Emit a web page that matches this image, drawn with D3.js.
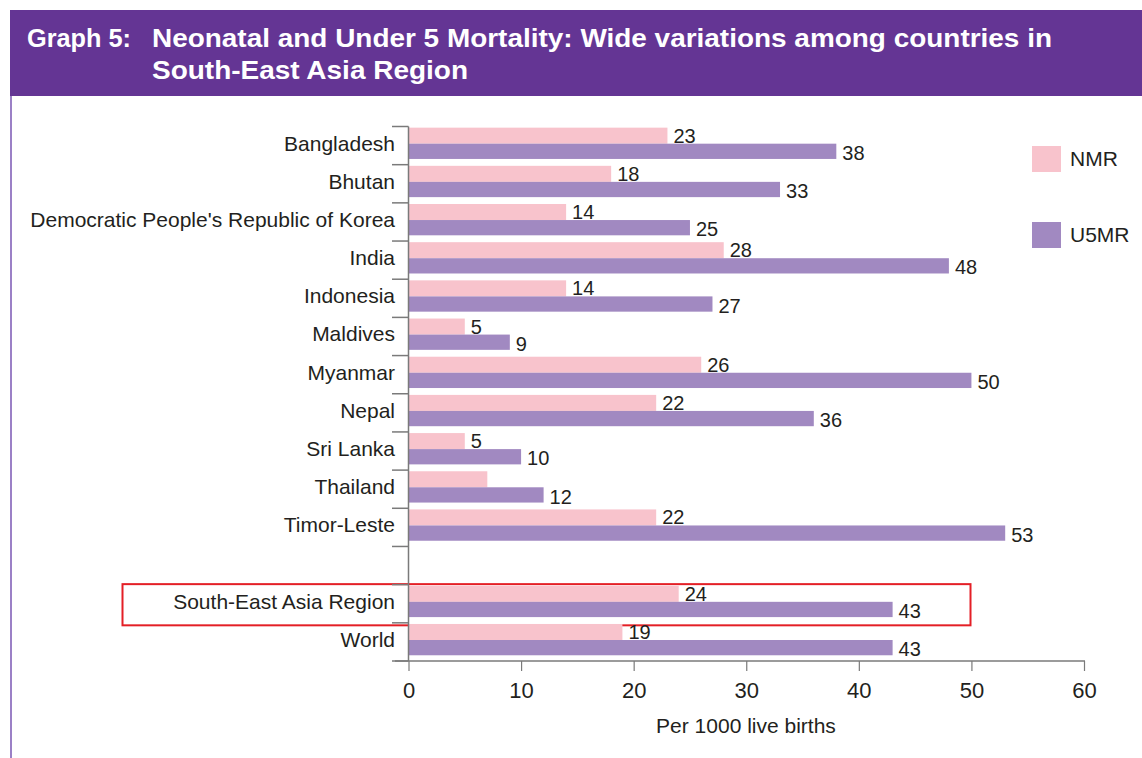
<!DOCTYPE html>
<html>
<head>
<meta charset="utf-8">
<script src="https://cdn.jsdelivr.net/npm/d3@7"></script>
<style>
  body { margin: 0; background: #fff; }
  svg { display: block; font-family: "Liberation Sans", Arial, Helvetica, sans-serif; }
</style>
</head>
<body>
<div id="chart"></div>
<script>
//Data
var countries = ["Bangladesh", "Bhutan", "Democratic People's Republic of Korea", "India", "Indonesia",
                 "Maldives", "Myanmar", "Nepal", "Sri Lanka", "Thailand", "Timor-Leste",
                 "", "South-East Asia Region", "World"];
var nmr  = [23, 18, 14, 28, 14, 5, 26, 22, 5, 7, 22, null, 24, 19];
var u5mr = [38, 33, 25, 48, 27, 9, 50, 36, 10, 12, 53, null, 43, 43];
var nmrShown = [true, true, true, true, true, true, true, true, true, false, true, false, true, true];
var seriesNames = ["NMR", "U5MR"];
var xTicks = [0, 10, 20, 30, 40, 50, 60];

var W = 1142, H = 758;
var colNMR = "#f8c3cc", colU5 = "#a189c1";
var ink = "#231f20";

var svg = d3.select("#chart").append("svg")
    .attr("width", W)
    .attr("height", H);

///////////////////////////////////////////////////////////////////////////
///////////////////////////////// Header //////////////////////////////////
///////////////////////////////////////////////////////////////////////////

svg.append("rect")
    .attr("x", 10).attr("y", 10)
    .attr("width", W - 10).attr("height", 86)
    .attr("fill", "#643594");

//thin lavender frame line down the left
svg.append("line")
    .attr("x1", 11).attr("x2", 11)
    .attr("y1", 96).attr("y2", H)
    .attr("stroke", "#9b80c6").attr("stroke-width", 2);

var title = svg.append("g")
    .attr("fill", "#fff")
    .style("font-weight", "bold")
    .style("font-size", "26px");
title.append("text").attr("x", 27).attr("y", 47)
    .attr("textLength", 104).attr("lengthAdjust", "spacingAndGlyphs")
    .text("Graph 5:");
title.append("text").attr("x", 152).attr("y", 47)
    .attr("textLength", 900).attr("lengthAdjust", "spacingAndGlyphs")
    .text("Neonatal and Under 5 Mortality: Wide variations among countries in");
title.append("text").attr("x", 152).attr("y", 79)
    .attr("textLength", 316).attr("lengthAdjust", "spacingAndGlyphs")
    .text("South-East Asia Region");

///////////////////////////////////////////////////////////////////////////
///////////////////////////////// Scales //////////////////////////////////
///////////////////////////////////////////////////////////////////////////

var x = d3.scaleLinear().domain([0, 60]).range([408.5, 1084]);

var y = d3.scaleBand()
    .domain(countries.map(function(d, i) { return i; }))
    .range([126.5, 661])
    .padding(0);
var bw = y.bandwidth();

var rows = countries.map(function(c, i) {
    return { name: c, i: i, nmr: nmr[i], u5mr: u5mr[i], showN: nmrShown[i] };
});

//Highlight box around the regional row
svg.append("rect")
    .attr("x", 122.5).attr("y", y(12) - 0.5)
    .attr("width", 848).attr("height", bw + 3)
    .attr("fill", "none")
    .attr("stroke", "#e41f26")
    .attr("stroke-width", 2);

///////////////////////////////////////////////////////////////////////////
////////////////////////////////// Bars ///////////////////////////////////
///////////////////////////////////////////////////////////////////////////

var data = rows.filter(function(d) { return d.nmr !== null; });

svg.selectAll(".bar-nmr")
    .data(data)
    .enter().append("rect")
    .attr("class", "bar-nmr")
    .attr("x", x(0))
    .attr("y", function(d) { return y(d.i) + bw * 0.03; })
    .attr("width", function(d) { return x(d.nmr) - x(0); })
    .attr("height", bw * 0.42)
    .attr("fill", colNMR);

svg.selectAll(".bar-u5")
    .data(data)
    .enter().append("rect")
    .attr("class", "bar-u5")
    .attr("x", x(0))
    .attr("y", function(d) { return y(d.i) + bw * 0.45; })
    .attr("width", function(d) { return x(d.u5mr) - x(0); })
    .attr("height", bw * 0.40)
    .attr("fill", colU5);

//Value labels
var lab = svg.append("g")
    .attr("fill", ink)
    .style("font-size", "20px");

lab.selectAll(".lab-nmr")
    .data(data.filter(function(d) { return d.showN; }))
    .enter().append("text")
    .attr("x", function(d) { return x(d.nmr) + 6; })
    .attr("y", function(d) { return y(d.i) + bw * 0.45 - 1; })
    .text(function(d) { return d.nmr; });

lab.selectAll(".lab-u5")
    .data(data)
    .enter().append("text")
    .attr("x", function(d) { return x(d.u5mr) + 6; })
    .attr("y", function(d) { return y(d.i) + bw * 0.85 + 1; })
    .text(function(d) { return d.u5mr; });

///////////////////////////////////////////////////////////////////////////
////////////////////////////////// Axes ///////////////////////////////////
///////////////////////////////////////////////////////////////////////////

var axisCol = "#7a7a7a";

//vertical axis line and category boundary ticks
svg.append("line")
    .attr("x1", x(0)).attr("x2", x(0))
    .attr("y1", y.range()[0]).attr("y2", y.range()[1])
    .attr("stroke", axisCol).attr("stroke-width", 1.5);

var bounds = countries.map(function(d, i) { return y(i); }).concat([y.range()[1]]);
svg.selectAll(".ytick")
    .data(bounds)
    .enter().append("line")
    .attr("class", "ytick")
    .attr("x1", 392).attr("x2", x(0))
    .attr("y1", function(d) { return d; }).attr("y2", function(d) { return d; })
    .attr("stroke", axisCol).attr("stroke-width", 1.5);

svg.append("g").selectAll("text")
    .data(rows.filter(function(d) { return d.name !== ""; }))
    .enter().append("text")
    .attr("x", 395)
    .attr("y", function(d) { return y(d.i) + bw * 0.63; })
    .attr("text-anchor", "end")
    .attr("fill", ink)
    .style("font-size", "21px")
    .text(function(d) { return d.name; });

//bottom axis
var xAxis = svg.append("g")
    .attr("transform", "translate(0," + y.range()[1] + ")")
    .call(d3.axisBottom(x).tickValues(xTicks).tickSize(10).tickPadding(11).tickSizeOuter(0));
xAxis.select(".domain").remove();
xAxis.selectAll(".tick line").attr("stroke", axisCol).attr("stroke-width", 1.2);
xAxis.selectAll(".tick text")
    .attr("fill", ink)
    .style("font-size", "22px")
    .style("font-family", "'Liberation Sans', Arial, sans-serif");
xAxis.append("line")
    .attr("x1", 395).attr("x2", x(60) + 1)
    .attr("y1", 0).attr("y2", 0)
    .attr("stroke", axisCol).attr("stroke-width", 1.5);

svg.append("text")
    .attr("x", 746)
    .attr("y", 733)
    .attr("text-anchor", "middle")
    .attr("fill", ink)
    .style("font-size", "21px")
    .text("Per 1000 live births");

///////////////////////////////////////////////////////////////////////////
///////////////////////////////// Legend //////////////////////////////////
///////////////////////////////////////////////////////////////////////////

var legend = svg.selectAll(".legend")
    .data(seriesNames)
    .enter().append("g")
    .attr("class", "legend")
    .attr("transform", function(d, i) { return "translate(1032," + (146 + i * 76) + ")"; });

legend.append("rect")
    .attr("width", 29).attr("height", 26)
    .attr("fill", function(d, i) { return i === 0 ? colNMR : colU5; });

legend.append("text")
    .attr("x", 38).attr("y", 20)
    .attr("fill", ink)
    .style("font-size", "21px")
    .text(function(d) { return d; });
</script>
</body>
</html>
